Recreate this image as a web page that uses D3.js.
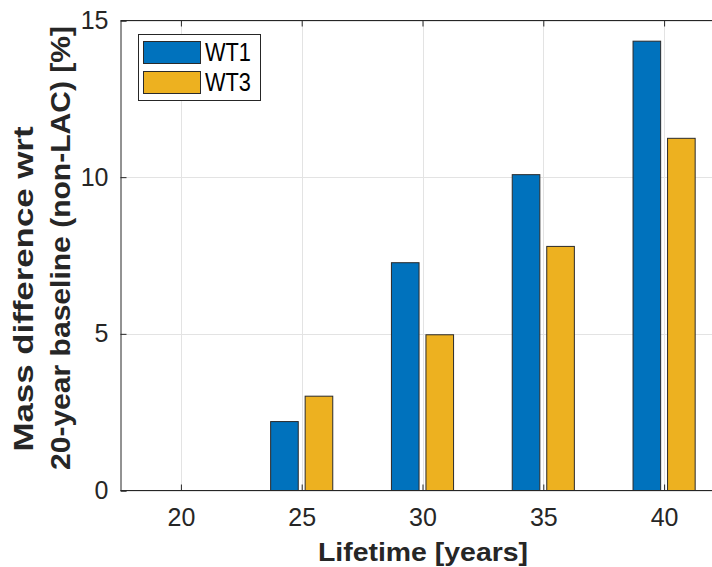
<!DOCTYPE html>
<html>
<head>
<meta charset="utf-8">
<script src="https://cdn.jsdelivr.net/npm/d3@7"></script>
<style>
  html, body { margin: 0; padding: 0; background: #fff; }
  svg { display: block; font-family: "Liberation Sans", Arial, Helvetica, sans-serif; }
</style>
</head>
<body>
<svg id="chart" width="712" height="567"></svg>
<script>
// ---- data ----
const lifetimes = [20, 25, 30, 35, 40];
const seriesNames = ["WT1", "WT3"];
const wt1Values = [0, 2.2, 7.27, 10.08, 14.34];
const wt3Values = [0, 3.01, 4.97, 7.79, 11.24];
const xTicks = [20, 25, 30, 35, 40];
const yTicks = [0, 5, 10, 15];
const xLabel = "Lifetime [years]";
const yLabelLines = ["Mass difference wrt", "20-year baseline (non-LAC) [%]"];

(function () {
// ---- layout ----
const W = 712, H = 567;
const mLeft = 120.5, mTop = 20.5, mBottom = 490.5;
const colors = { WT1: "#0072BD", WT3: "#EDB120" };
const svg = d3.select("#chart");

const x = d3.scaleLinear().domain([17.5, 42.5]).range([mLeft, mLeft + 604]);
const y = d3.scaleLinear().domain([0, 15]).range([mBottom, mTop]);

// grouped bar sub-scale (MATLAB-like grouping)
const groupW = x(20 + 5 * 2 / 3.5) - x(20);
const sub = d3.scaleBand().domain(seriesNames).range([-groupW / 2, groupW / 2])
  .paddingInner(0.2).paddingOuter(0.1);

const rows = lifetimes.map((t, i) => ({ t, WT1: wt1Values[i], WT3: wt3Values[i] }));

// grid
const grid = svg.append("g");
grid.selectAll("line.gy").data(yTicks).join("line")
  .attr("x1", mLeft).attr("x2", W).attr("y1", d => Math.round(y(d)) + 0.5).attr("y2", d => Math.round(y(d)) + 0.5)
  .attr("stroke", "#e3e3e3").attr("stroke-width", 1);
grid.selectAll("line.gx").data(xTicks).join("line")
  .attr("x1", d => Math.round(x(d)) + 0.5).attr("x2", d => Math.round(x(d)) + 0.5)
  .attr("y1", mTop).attr("y2", mBottom)
  .attr("stroke", "#e3e3e3").attr("stroke-width", 1);

// bars
const gBars = svg.append("g");
seriesNames.forEach(s => {
  gBars.selectAll("rect." + s).data(rows).join("rect")
    .attr("class", s)
    .attr("x", d => x(d.t) + sub(s))
    .attr("width", sub.bandwidth())
    .attr("y", d => y(d[s]))
    .attr("height", d => y(0) - y(d[s]))
    .attr("fill", colors[s])
    .attr("stroke", "#2a2a2a").attr("stroke-width", 1);
});

// axes
const axisColor = "#262626";
const xAxis = svg.append("g").attr("transform", `translate(0,${mBottom})`)
  .call(d3.axisBottom(x).tickValues(xTicks).tickSize(-6).tickPadding(18).tickFormat(d3.format("d")));
const xAxisTop = svg.append("g").attr("transform", `translate(0,${mTop})`)
  .call(d3.axisTop(x).tickValues(xTicks).tickSize(-6).tickFormat(""));
const yAxis = svg.append("g").attr("transform", `translate(${mLeft},0)`)
  .call(d3.axisLeft(y).tickValues(yTicks).tickSize(-6).tickPadding(12).tickFormat(d3.format("d")));
[xAxis, xAxisTop, yAxis].forEach(g => {
  g.select(".domain").attr("stroke", axisColor).attr("stroke-width", 1);
  g.selectAll(".tick line").attr("stroke", axisColor);
  g.selectAll(".tick text").attr("fill", axisColor).attr("font-size", 25)
    .attr("font-family", "'Liberation Sans', Arial, sans-serif");
});
// extend top/bottom domain lines to the page edge (plot is cropped on the right)
xAxis.select(".domain").attr("d", `M${mLeft},0H${W}`);
xAxisTop.select(".domain").attr("d", `M${mLeft},0H${W}`);

// axis labels
svg.append("text").attr("x", 423).attr("y", 561).attr("text-anchor", "middle")
  .attr("font-size", 26).attr("font-weight", "bold").attr("fill", axisColor)
  .attr("textLength", 210).attr("lengthAdjust", "spacingAndGlyphs").text(xLabel);

const yl = svg.append("g");
yl.append("text").attr("transform", "translate(33,289) rotate(-90)").attr("text-anchor", "middle")
  .attr("font-size", 27).attr("font-weight", "bold").attr("fill", axisColor)
  .attr("textLength", 325).attr("lengthAdjust", "spacingAndGlyphs").text(yLabelLines[0]);
yl.append("text").attr("transform", "translate(70,248) rotate(-90)").attr("text-anchor", "middle")
  .attr("font-size", 27).attr("font-weight", "bold").attr("fill", axisColor)
  .attr("textLength", 444).attr("lengthAdjust", "spacingAndGlyphs").text(yLabelLines[1]);

// legend
const lg = svg.append("g");
lg.append("rect").attr("x", 138.5).attr("y", 34.5).attr("width", 122).attr("height", 66)
  .attr("fill", "#fff").attr("stroke", "#262626").attr("stroke-width", 1);
seriesNames.forEach((s, i) => {
  lg.append("rect").attr("x", 143.5).attr("y", 41.5 + i * 30).attr("width", 57).attr("height", 22)
    .attr("fill", colors[s]).attr("stroke", "#2a2a2a").attr("stroke-width", 1);
  lg.append("text").attr("x", 205).attr("y", 61 + i * 30).attr("font-size", 25)
    .attr("textLength", 46).attr("lengthAdjust", "spacingAndGlyphs")
    .attr("fill", "#000").text(s);
});
})();
</script>
</body>
</html>
